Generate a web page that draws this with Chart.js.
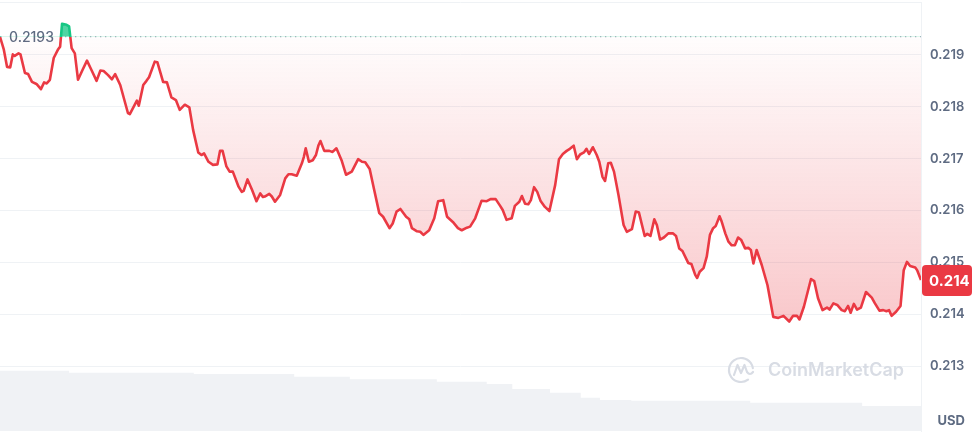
<!DOCTYPE html>
<html>
<head>
<meta charset="utf-8">
<script src="https://cdn.jsdelivr.net/npm/chart.js@4.4.0/dist/chart.umd.min.js"></script>
<style>
  html, body { margin: 0; padding: 0; background: #fff; }
  #wrap { width: 973px; height: 433px; }
</style>
</head>
<body>
<div id="wrap"><canvas id="priceChart" width="973" height="433"></canvas></div>
<script>
// minutes since the start of the 24h window
const times = [
  0, 6, 11, 16, 20, 23, 29, 32, 39, 44,
  50, 57, 64, 69, 73, 78, 84, 91, 94, 97,
  104, 108, 112, 117, 122, 129, 136, 143, 151, 157,
  162, 169, 175, 180, 188, 200, 203, 214, 217, 224,
  229, 233, 242, 246, 255, 261, 268, 275, 281, 289,
  296, 302, 310, 315, 319, 326, 333, 340, 344, 348,
  354, 359, 364, 373, 378, 381, 387, 394, 401, 407,
  411, 414, 421, 425, 430, 438, 446, 451, 456, 464,
  472, 475, 478, 483, 489, 494, 498, 501, 507, 515,
  520, 526, 534, 541, 550, 560, 566, 571, 578, 585,
  593, 599, 609, 614, 620, 626, 635, 640, 644, 652,
  657, 662, 671, 679, 685, 693, 699, 708, 716, 722,
  730, 735, 743, 753, 761, 767, 775, 782, 786, 792,
  800, 805, 812, 816, 821, 826, 830, 835, 840, 845,
  852, 859, 868, 874, 880, 886, 891, 897, 902, 907,
  913, 917, 921, 927, 933, 937, 942, 946, 951, 955,
  960, 967, 975, 980, 988, 994, 999, 1008, 1012, 1017,
  1023, 1027, 1032, 1038, 1045, 1052, 1057, 1062, 1067, 1076,
  1081, 1087, 1090, 1094, 1100, 1105, 1110, 1115, 1119, 1125,
  1128, 1134, 1139, 1144, 1149, 1154, 1159, 1165, 1170, 1174,
  1178, 1183, 1191, 1200, 1209, 1217, 1225, 1234, 1240, 1246,
  1250, 1257, 1268, 1273, 1279, 1286, 1293, 1297, 1303, 1309,
  1316, 1321, 1326, 1330, 1335, 1340, 1346, 1354, 1363, 1368,
  1375, 1381, 1386, 1390, 1394, 1401, 1408, 1413, 1418, 1423,
  1431, 1434, 1440
];

// price in USD
const prices = [
  0.21935, 0.21910, 0.21877, 0.21876, 0.21901, 0.21898, 0.21903, 0.21901, 0.21865, 0.21863,
  0.21848, 0.21844, 0.21834, 0.21847, 0.21845, 0.21852, 0.21894, 0.21911, 0.21916, 0.21960,
  0.21958, 0.21955, 0.21913, 0.21903, 0.21852, 0.21871, 0.21889, 0.21871, 0.21850, 0.21870,
  0.21869, 0.21861, 0.21853, 0.21863, 0.21842, 0.21788, 0.21786, 0.21812, 0.21802, 0.21842,
  0.21850, 0.21857, 0.21887, 0.21886, 0.21848, 0.21847, 0.21818, 0.21813, 0.21794, 0.21804,
  0.21799, 0.21755, 0.21712, 0.21707, 0.21710, 0.21694, 0.21688, 0.21689, 0.21715, 0.21715,
  0.21685, 0.21675, 0.21675, 0.21646, 0.21636, 0.21638, 0.21660, 0.21640, 0.21618, 0.21633,
  0.21626, 0.21627, 0.21632, 0.21627, 0.21617, 0.21630, 0.21662, 0.21670, 0.21670, 0.21667,
  0.21691, 0.21703, 0.21720, 0.21694, 0.21697, 0.21707, 0.21726, 0.21734, 0.21715, 0.21715,
  0.21713, 0.21720, 0.21697, 0.21669, 0.21675, 0.21699, 0.21694, 0.21693, 0.21680, 0.21640,
  0.21595, 0.21588, 0.21566, 0.21575, 0.21598, 0.21603, 0.21588, 0.21583, 0.21566, 0.21560,
  0.21559, 0.21553, 0.21562, 0.21585, 0.21618, 0.21620, 0.21588, 0.21578, 0.21566, 0.21562,
  0.21567, 0.21569, 0.21585, 0.21619, 0.21618, 0.21622, 0.21622, 0.21609, 0.21601, 0.21582,
  0.21585, 0.21609, 0.21617, 0.21628, 0.21613, 0.21612, 0.21620, 0.21645, 0.21636, 0.21619,
  0.21607, 0.21599, 0.21649, 0.21699, 0.21709, 0.21715, 0.21719, 0.21725, 0.21699, 0.21708,
  0.21712, 0.21719, 0.21709, 0.21722, 0.21707, 0.21694, 0.21665, 0.21657, 0.21691, 0.21692,
  0.21675, 0.21630, 0.21572, 0.21559, 0.21564, 0.21598, 0.21596, 0.21551, 0.21555, 0.21551,
  0.21583, 0.21572, 0.21544, 0.21548, 0.21556, 0.21556, 0.21551, 0.21527, 0.21522, 0.21499,
  0.21497, 0.21476, 0.21470, 0.21482, 0.21489, 0.21511, 0.21553, 0.21566, 0.21570, 0.21589,
  0.21580, 0.21556, 0.21540, 0.21533, 0.21533, 0.21548, 0.21543, 0.21527, 0.21528, 0.21524,
  0.21498, 0.21524, 0.21495, 0.21456, 0.21395, 0.21393, 0.21397, 0.21386, 0.21397, 0.21397,
  0.21390, 0.21415, 0.21468, 0.21464, 0.21431, 0.21408, 0.21413, 0.21409, 0.21421, 0.21418,
  0.21408, 0.21406, 0.21416, 0.21403, 0.21420, 0.21409, 0.21413, 0.21443, 0.21432, 0.21421,
  0.21407, 0.21408, 0.21406, 0.21408, 0.21397, 0.21405, 0.21416, 0.21485, 0.21501, 0.21493,
  0.21490, 0.21485, 0.21466
];

// volume profile (relative units), each level holds until the next time
const volumeTimes = [0, 108, 303, 460, 547, 683, 761, 801, 860, 908, 938, 987, 1173, 1348, 1440];
const volumes = [140.6, 135.9, 132.9, 126.6, 120.5, 114.9, 109.6, 97.9, 89.3, 77.6, 72.3, 70.6, 66.0, 58.3, 58.3];

const priceTicks = [0.213, 0.214, 0.215, 0.216, 0.217, 0.218, 0.219];
const priceMin = 0.21175;
const priceMax = 0.22002;
const volumeMax = 1000;

const openPrice = prices[0];
const lastPrice = prices[prices.length - 1];

const RED = '#ea3943';
const GREEN = '#16c784';
const GREY = '#5e6b82';
const GRID = '#eff2f5';

// line colour switches from green to red at the open price
function lineColor(context) {
  const { chart } = context;
  const { ctx, chartArea, scales } = chart;
  if (!chartArea) return RED;
  const base = scales.y.getPixelForValue(openPrice);
  const g = ctx.createLinearGradient(0, chartArea.top, 0, chartArea.bottom);
  const stop = Math.min(Math.max((base - chartArea.top) / (chartArea.bottom - chartArea.top), 0), 1);
  g.addColorStop(0, GREEN);
  g.addColorStop(stop, GREEN);
  g.addColorStop(stop, RED);
  g.addColorStop(1, RED);
  return g;
}

// red area under the open price fades in towards the bottom
function belowFill(context) {
  const { chart } = context;
  const { ctx, chartArea, scales } = chart;
  if (!chartArea) return 'rgba(234,57,67,0.15)';
  const base = scales.y.getPixelForValue(openPrice);
  const g = ctx.createLinearGradient(0, base, 0, chartArea.bottom);
  g.addColorStop(0, 'rgba(234,57,67,0.01)');
  g.addColorStop(1, 'rgba(234,57,67,0.38)');
  return g;
}

const overlay = {
  id: 'overlay',
  beforeDatasetsDraw(chart) {
    const { ctx, chartArea, scales } = chart;
    const by = scales.y.getPixelForValue(openPrice);
    ctx.save();

    // top border of the plot
    ctx.strokeStyle = GRID;
    ctx.lineWidth = 1;
    ctx.beginPath();
    ctx.moveTo(chartArea.left, chartArea.top + 0.5);
    ctx.lineTo(chartArea.right, chartArea.top + 0.5);
    ctx.stroke();

    // watermark
    const wx = chartArea.right - 180;
    const wy = chartArea.bottom - 61;
    ctx.strokeStyle = '#d8dce4';
    ctx.lineWidth = 2.2;
    ctx.lineCap = 'round';
    ctx.lineJoin = 'round';
    ctx.beginPath();
    ctx.arc(wx, wy, 12, 0.3 * Math.PI, 1.95 * Math.PI);
    ctx.stroke();
    ctx.beginPath();
    ctx.moveTo(wx - 7, wy + 5);
    ctx.lineTo(wx - 3.5, wy - 5);
    ctx.lineTo(wx, wy + 3);
    ctx.lineTo(wx + 3.5, wy - 5);
    ctx.lineTo(wx + 6, wy + 2);
    ctx.quadraticCurveTo(wx + 9, wy + 6, wx + 12, wy + 2);
    ctx.stroke();
    ctx.fillStyle = '#d8dce4';
    ctx.font = '600 18px Inter';
    ctx.textBaseline = 'middle';
    ctx.textAlign = 'left';
    ctx.fillText('CoinMarketCap', wx + 27, wy + 1);

    // dotted open price line
    ctx.strokeStyle = '#9aa3b5';
    ctx.lineWidth = 1.2;
    ctx.lineCap = 'butt';
    ctx.setLineDash([1.3, 3.7]);
    ctx.beginPath();
    ctx.moveTo(chartArea.left, by);
    ctx.lineTo(chartArea.right, by);
    ctx.stroke();
    ctx.setLineDash([]);

    // open price label
    const txt = (Math.floor(openPrice * 1e4) / 1e4).toFixed(4);
    ctx.font = '500 14px Inter';
    const w = ctx.measureText(txt).width;
    ctx.fillStyle = '#fff';
    ctx.fillRect(chartArea.left + 4, by - 9, w + 10, 18);
    ctx.fillStyle = GREY;
    ctx.fillText(txt, chartArea.left + 9, by + 1);
    ctx.restore();
  },
  afterDraw(chart) {
    const { ctx, chartArea, scales, width } = chart;
    ctx.save();

    // current price badge
    const py = scales.y.getPixelForValue(lastPrice);
    const bx = chartArea.right + 1;
    const bw = width - bx - 1;
    ctx.fillStyle = RED;
    ctx.beginPath();
    ctx.roundRect(bx, py - 15, bw, 31, 4);
    ctx.fill();
    ctx.fillStyle = '#fff';
    ctx.font = '700 15px Inter';
    ctx.textBaseline = 'middle';
    ctx.textAlign = 'left';
    ctx.fillText((Math.floor(lastPrice * 1000) / 1000).toFixed(3), bx + 7, py + 1);

    // currency
    ctx.fillStyle = GREY;
    ctx.font = '700 13px Inter';
    ctx.textAlign = 'right';
    ctx.fillText('USD', width - 8, chartArea.bottom - 10);
    ctx.restore();
  }
};

const ctx = document.getElementById('priceChart').getContext('2d');
new Chart(ctx, {
  type: 'line',
  data: {
    datasets: [
      {
        label: 'Price',
        data: times.map((t, i) => ({ x: t, y: prices[i] })),
        yAxisID: 'y',
        borderColor: lineColor,
        backgroundColor: belowFill,
        borderWidth: 2.6,
        pointRadius: 0,
        tension: 0,
        borderJoinStyle: 'round',
        fill: { target: { value: openPrice }, above: 'rgba(22,199,132,0.75)' },
        order: 0
      },
      {
        label: 'Volume',
        data: volumeTimes.map((t, i) => ({ x: t, y: volumes[i] })),
        yAxisID: 'yv',
        stepped: true,
        borderWidth: 0,
        borderColor: 'rgba(0,0,0,0)',
        backgroundColor: '#f0f2f5',
        pointRadius: 0,
        fill: 'start',
        order: 1
      }
    ]
  },
  options: {
    responsive: false,
    animation: false,
    layout: { padding: { top: 2, bottom: 2, left: 0, right: 0 } },
    plugins: {
      legend: { display: false },
      tooltip: { enabled: false }
    },
    scales: {
      x: {
        type: 'linear',
        min: 0,
        max: 1440,
        display: false
      },
      y: {
        position: 'right',
        min: priceMin,
        max: priceMax,
        afterBuildTicks: (axis) => { axis.ticks = priceTicks.map(v => ({ value: v })); },
        afterFit: (axis) => {
          axis.width = 52;
          axis.paddingTop = 0;
          axis.paddingBottom = 0;
        },
        grid: { color: GRID, drawTicks: false },
        border: { display: true, color: GRID },
        ticks: {
          padding: 9,
          color: GREY,
          font: { family: 'Inter', size: 13, weight: '600' },
          callback: (v) => Number(v).toFixed(3)
        }
      },
      yv: {
        display: false,
        min: 0,
        max: volumeMax
      }
    }
  },
  plugins: [overlay]
});
</script>
</body>
</html>
